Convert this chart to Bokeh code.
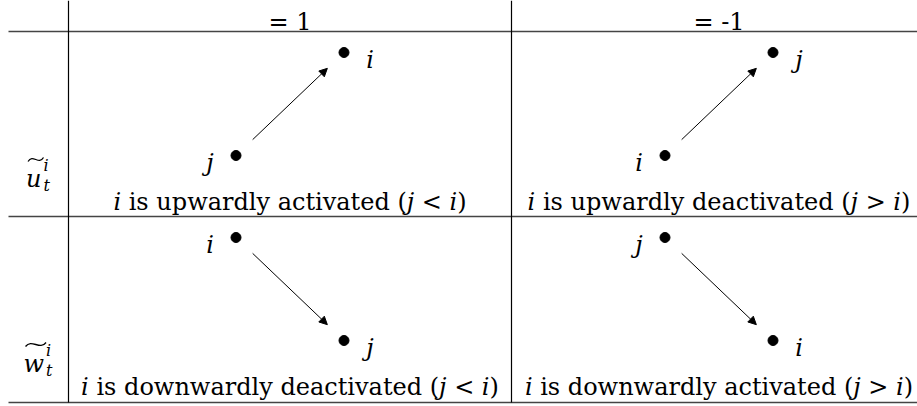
import glob
import os
import re

from bokeh.plotting import figure
from bokeh.models import Range1d, ColumnDataSource, Arrow, NormalHead
from bokeh.core.properties import value
from bokeh.embed import file_html
from bokeh.resources import INLINE

# ---------------- data ----------------
col_headers = ["= 1", "= -1"]
row_symbols = ["u", "w"]
row_sup = ["i", "i"]
row_sub = ["t", "t"]
captions = ["i is upwardly activated (j < i)",
            "i is upwardly deactivated (j > i)",
            "i is downwardly deactivated (j < i)",
            "i is downwardly activated (j > i)"]
cell_row = [0, 0, 1, 1]
cell_col = [0, 1, 0, 1]
tail_label = ["j", "i", "i", "j"]
head_label = ["i", "j", "j", "i"]
tail_level = [0, 0, 1, 1]   # 0 = low, 1 = high
head_level = [1, 1, 0, 0]
italic_tokens = ["i", "j"]

# ---------------- layout (table geometry, px) ----------------
FONT = "DejaVu Serif"
FS = 24          # body font size
FS_SCRIPT = 16   # sub/superscript size
rule_left, rule_right = 8, 917
rule_y = [31, 216, 402]
vline_x = [68, 511]
col_center = [289.5, 718.5]
row_top = [31, 216]
node_dx = 54
level_y = {1: 21, 0: 124}     # offset from row top
label_gap = 26
arrow_trim = 23
caption_base = 170
rowlabel_base = 147
rowlabel_cx = 37.5
header_base = 21


def _find(fname):
    for base in ["/usr/share/fonts", "/usr/local/share/fonts",
                 os.path.expanduser("~/.fonts"),
                 os.path.expanduser("~/.local/share/fonts")]:
        hits = glob.glob(os.path.join(base, "**", fname), recursive=True)
        if hits:
            return hits[0]
    return None


try:
    from PIL import ImageFont
    _paths = {False: _find("DejaVuSerif.ttf"),
              True: _find("DejaVuSerif-Italic.ttf")}
except Exception:
    ImageFont = None
    _paths = {False: None, True: None}

_cache = {}


def text_width(s, size, italic=False):
    path = _paths.get(italic)
    if ImageFont is not None and path:
        key = (italic, size)
        if key not in _cache:
            _cache[key] = ImageFont.truetype(path, size)
        f = _cache[key]
        try:
            return f.getlength(s)
        except AttributeError:
            return f.getsize(s)[0]
    return 0.58 * size * len(s)


def runs_of(s):
    toks = re.findall(r"\s+|[A-Za-z]+|[^\sA-Za-z]+", s)
    merged = []
    for t in toks:
        if t.isspace():
            r = [" ", None]
        elif t in italic_tokens:
            r = [t, True]
        else:
            r = [t, False]
        if r[1] is False and len(merged) >= 2 and merged[-1][1] is None and merged[-2][1] is False:
            sp = merged.pop()
            merged[-1][0] += sp[0] + r[0]
        elif r[1] is False and merged and merged[-1][1] is False:
            merged[-1][0] += r[0]
        else:
            merged.append(r)
    return merged


rm = dict(x=[], y=[], text=[])
it = dict(x=[], y=[], text=[])


def place_mixed(s, cx, base):
    runs = runs_of(s)
    widths = [text_width(t, FS, bool(kind)) for t, kind in runs]
    x = cx - sum(widths) / 2.0
    for (t, kind), w in zip(runs, widths):
        if kind is True:
            it["x"].append(x); it["y"].append(base); it["text"].append(t)
        elif kind is False:
            rm["x"].append(x); rm["y"].append(base); rm["text"].append(t)
        x += w


# headers
for c, h in enumerate(col_headers):
    w = text_width(h, FS)
    rm["x"].append(col_center[c] - w / 2.0); rm["y"].append(header_base); rm["text"].append(h)

# captions
for k, cap in enumerate(captions):
    place_mixed(cap, col_center[cell_col[k]], row_top[cell_row[k]] + caption_base)

# nodes
dots_x, dots_y = [], []
lab = dict(x=[], y=[], text=[])
arr = dict(xs=[], ys=[], xe=[], ye=[])
for k in range(len(captions)):
    cx = col_center[cell_col[k]]
    top = row_top[cell_row[k]]
    tx, ty = cx - node_dx, top + level_y[tail_level[k]]
    hx, hy = cx + node_dx, top + level_y[head_level[k]]
    dots_x += [tx, hx]; dots_y += [ty, hy]
    lab["x"] += [tx - label_gap, hx + label_gap]
    lab["y"] += [ty + 7, hy + 7]
    lab["text"] += [tail_label[k], head_label[k]]
    dx, dy = hx - tx, hy - ty
    L = (dx * dx + dy * dy) ** 0.5
    arr["xs"].append(tx + dx * arrow_trim / L); arr["ys"].append(ty + dy * arrow_trim / L)
    arr["xe"].append(hx - dx * arrow_trim / L); arr["ye"].append(hy - dy * arrow_trim / L)

# row labels (tilde-accented symbol with sub/superscript)
sub = dict(x=[], y=[], text=[])
tilde = dict(x0=[], y0=[], x1=[], y1=[], cx0=[], cy0=[], cx1=[], cy1=[])
for r, sym in enumerate(row_symbols):
    base = row_top[r] + rowlabel_base
    wb = text_width(sym, FS, True)
    ws = max(text_width(row_sup[r], FS_SCRIPT, True), text_width(row_sub[r], FS_SCRIPT, True))
    left = rowlabel_cx - (wb + 2 + ws) / 2.0
    it["x"].append(left); it["y"].append(base); it["text"].append(sym)
    sx = left + wb + 2
    sub["x"] += [sx, sx]; sub["y"] += [base - 13, base + 7]
    sub["text"] += [row_sup[r], row_sub[r]]
    L0, R0 = left + 2, left + wb + 2
    yc = base - 19
    tilde["x0"].append(L0); tilde["y0"].append(yc + 2)
    tilde["x1"].append(R0); tilde["y1"].append(yc - 2)
    tilde["cx0"].append(L0 + 0.3 * (R0 - L0)); tilde["cy0"].append(yc - 6)
    tilde["cx1"].append(L0 + 0.7 * (R0 - L0)); tilde["cy1"].append(yc + 6)

# ---------------- figure ----------------
p = figure(width=917, height=406, x_range=Range1d(0, 917), y_range=Range1d(406, 0),
           output_backend="svg", toolbar_location=None, min_border=0,
           x_axis_location=None, y_axis_location=None, outline_line_color=None)
p.grid.grid_line_color = None
p.background_fill_color = "white"
p.border_fill_color = "white"

p.segment(x0=[rule_left] * len(rule_y), y0=rule_y, x1=[rule_right] * len(rule_y), y1=rule_y,
          line_color="#444444", line_width=1.5)
p.segment(x0=vline_x, y0=[0] * len(vline_x), x1=vline_x, y1=[rule_y[-1]] * len(vline_x),
          line_color="black", line_width=1.2)

p.add_layout(Arrow(end=NormalHead(size=8, fill_color="black", line_color="black", line_width=1),
                   x_start="xs", y_start="ys", x_end="xe", y_end="ye",
                   source=ColumnDataSource(arr), line_color="black", line_width=1))
p.scatter(dots_x, dots_y, size=10, color="black")

p.text(x="x", y="y", text="text", source=ColumnDataSource(rm), text_font=value(FONT),
       text_font_size=f"{FS}px", text_align="left", text_baseline="alphabetic", text_color="black")
p.text(x="x", y="y", text="text", source=ColumnDataSource(it), text_font=value(FONT),
       text_font_style="italic", text_font_size=f"{FS}px", text_align="left",
       text_baseline="alphabetic", text_color="black")
p.text(x="x", y="y", text="text", source=ColumnDataSource(lab), text_font=value(FONT),
       text_font_style="italic", text_font_size=f"{FS}px",
       text_align="center", text_baseline="alphabetic", text_color="black")
p.text(x="x", y="y", text="text", source=ColumnDataSource(sub), text_font=value(FONT),
       text_font_style="italic", text_font_size=f"{FS_SCRIPT}px", text_align="left",
       text_baseline="alphabetic", text_color="black")
p.bezier(source=ColumnDataSource(tilde), x0="x0", y0="y0", x1="x1", y1="y1",
         cx0="cx0", cy0="cy0", cx1="cx1", cy1="cy1", line_color="black", line_width=1.3)

open("out.html", "w").write(file_html(p, INLINE))
